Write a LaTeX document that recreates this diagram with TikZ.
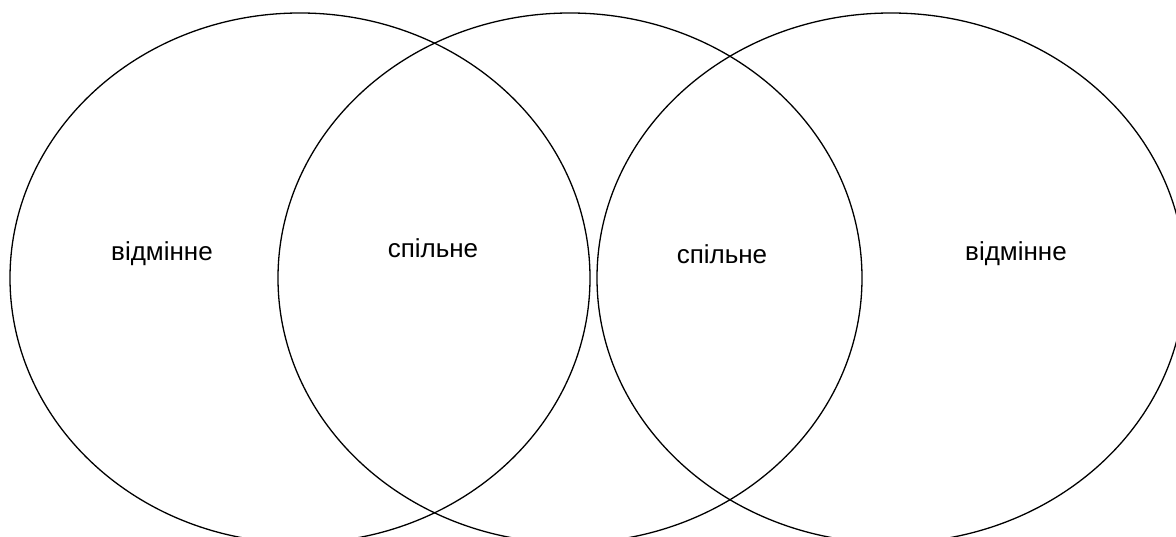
\documentclass[tikz,border=0pt]{standalone}
\usepackage{fontspec}
\setmainfont{Liberation Sans}
\usepackage{tikz}

\begin{document}
\begin{tikzpicture}[x=1pt,y=-1pt,
    ring/.style={draw=black,line width=1.3pt},
    word/.style={font=\fontsize{26}{30}\selectfont,inner sep=0pt}]
  \useasboundingbox (0,0) rectangle (1176,537);
  \clip (0,0) rectangle (1176,537);
  \draw[ring] (300,278) ellipse [x radius=290pt,y radius=265pt];
  \draw[ring] (570,278) ellipse [x radius=292pt,y radius=265pt];
  \draw[ring] (891,278) ellipse [x radius=294pt,y radius=265pt];

  \node[word] (dl) at (162,254) {відмінне};
  \node[word] (cl) at (433,248) {спільне};
  \node[word] (cr) at (722,254) {спільне};
  \node[word] (dr) at (1016,254) {відмінне};
\end{tikzpicture}
\end{document}
